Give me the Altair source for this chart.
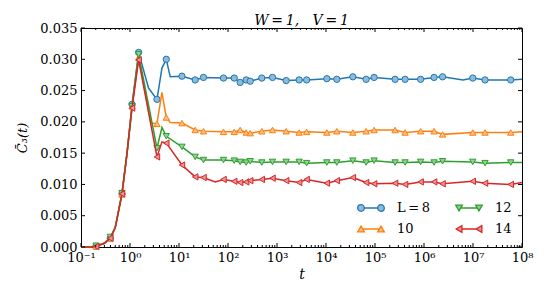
import altair as alt
import pandas as pd

# ---------------- data ----------------
names = ["L\u2009=\u20098", "10", "12", "14"]

t_mark = [0.203, 0.396, 0.686, 1.10, 1.50, 3.55, 5.50, 11.5, 21.4, 31.6, 80.9,
          134, 177, 235, 284, 490, 809, 1538, 2831, 4027, 10400, 16630, 35300,
          65900, 95900, 257000, 411000, 853000, 1.607e6, 2.39e6, 9.89e6,
          1.76e7, 5.89e7]

v_L8 = [0.0001, 0.0014, 0.0085, 0.0228, 0.0311, 0.0236, 0.0300, 0.0273, 0.0267,
        0.0271, 0.0270, 0.0270, 0.0263, 0.0267, 0.0265, 0.0270, 0.0271, 0.0266,
        0.0267, 0.0267, 0.0269, 0.0268, 0.0272, 0.0268, 0.0271, 0.0268, 0.0268,
        0.0268, 0.0271, 0.0272, 0.0270, 0.0267, 0.0267]
v_L10 = [0.0001, 0.0014, 0.0084, 0.0225, 0.0303, 0.0197, 0.0207, 0.0198, 0.0187,
         0.0185, 0.0184, 0.0184, 0.0187, 0.0183, 0.0182, 0.0185, 0.0187, 0.0185,
         0.0183, 0.0184, 0.0183, 0.0185, 0.0183, 0.0185, 0.0187, 0.0187, 0.0183,
         0.0185, 0.0185, 0.0180, 0.0183, 0.0183, 0.0183]
v_L12 = [0.0002, 0.0016, 0.0086, 0.0225, 0.0308, 0.0158, 0.0177, 0.0160, 0.0144,
         0.0139, 0.0139, 0.0138, 0.0136, 0.0135, 0.0137, 0.0135, 0.0136, 0.0136,
         0.0136, 0.0134, 0.0135, 0.0135, 0.0138, 0.0135, 0.0138, 0.0135, 0.0135,
         0.0136, 0.0135, 0.0137, 0.0136, 0.0134, 0.0135]
v_L14 = [0.0001, 0.0014, 0.0085, 0.0222, 0.0299, 0.0144, 0.0166, 0.0131, 0.0112,
         0.0111, 0.0108, 0.0105, 0.0103, 0.0104, 0.0106, 0.0108, 0.0110, 0.0106,
         0.0103, 0.0108, 0.0102, 0.0106, 0.0111, 0.0103, 0.0101, 0.0102, 0.0100,
         0.0104, 0.0104, 0.0101, 0.0105, 0.0102, 0.0100]

# line-only points (the curves are denser than the markers)
early_t = [0.1, 0.15, 0.3, 0.5, 0.87]
early_v = [0.0, 0.0, 0.0006, 0.0031, 0.0150]
ext_t_L8 = [2.39, 4.49, 6.62, 6.27e6, 1e8]
ext_v_L8 = [0.0254, 0.0286, 0.0272, 0.0267, 0.0268]
ext_t_L10 = [2.68, 4.49, 6.62, 1e8]
ext_v_L10 = [0.0198, 0.0247, 0.0199, 0.0184]
ext_t_L12 = [4.49, 1e8]
ext_v_L12 = [0.0191, 0.0135]
ext_t_L14 = [4.49, 54.8, 1e8]
ext_v_L14 = [0.0168, 0.0104, 0.0103]

x_major = [1e-1, 1e0, 1e1, 1e2, 1e3, 1e4, 1e5, 1e6, 1e7, 1e8]
x_labels = ["10⁻¹", "10⁰", "10¹", "10²", "10³", "10⁴", "10⁵", "10⁶", "10⁷", "10⁸"]
x_minor = [m * 10.0 ** k for k in range(-1, 8) for m in range(2, 10)]
y_major = [0.0, 0.005, 0.010, 0.015, 0.020, 0.025, 0.030, 0.035]

# ---------------- styling ----------------
dark = dict(zip(names, ["#1f77b4", "#ff7f0e", "#2ca02c", "#d62728"]))
light = dict(zip(names, ["#8fbbd9", "#ffbf86", "#95cf95", "#eb9393"]))
shapes = dict(zip(names, ["circle", "triangle-up", "triangle-down", "triangle-left"]))


def circ(cx, r=0.25):
    return (f"M{cx - r},0A{r},{r},0,1,0,{cx + r},0A{r},{r},0,1,0,{cx - r},0Z")


def tri_up(cx, r=0.25):
    h = 0.866 * r
    return f"M{cx},{-h}L{cx + r},{h}L{cx - r},{h}Z"


def tri_down(cx, r=0.25):
    h = 0.866 * r
    return f"M{cx},{h}L{cx + r},{-h}L{cx - r},{-h}Z"


def tri_left(cx, r=0.25):
    h = 0.866 * r
    return f"M{cx - h},0L{cx + h},{-r}L{cx + h},{r}Z"


legend_paths = dict(zip(names, [
    "M-0.5,0L0.5,0" + circ(-0.75) + circ(0.75),
    "M-0.625,0L0.625,0" + tri_up(-0.75) + tri_up(0.75),
    "M-0.625,0L0.625,0" + tri_down(-0.75) + tri_down(0.75),
    "M-0.53,0L0.53,0" + tri_left(-0.75) + tri_left(0.75),
]))

rows = []
for name, vals, et, ev in [(names[0], v_L8, ext_t_L8, ext_v_L8),
                           (names[1], v_L10, ext_t_L10, ext_v_L10),
                           (names[2], v_L12, ext_t_L12, ext_v_L12),
                           (names[3], v_L14, ext_t_L14, ext_v_L14)]:
    for t, v in zip(early_t, early_v):
        rows.append({"series": name, "t": t, "v": v, "mark": False})
    for t, v in zip(t_mark, vals):
        rows.append({"series": name, "t": t, "v": v, "mark": True})
    for t, v in zip(et, ev):
        rows.append({"series": name, "t": t, "v": v, "mark": False})
df = pd.DataFrame(rows)

FONT = "DejaVu Serif"
W, H = 441, 219

xscale = alt.Scale(type="log", domain=[0.1, 1e8], nice=False)
yscale = alt.Scale(domain=[0, 0.035], nice=False, zero=False)
# line colours: domain listed in another order so this (legend-less) scale
# is never merged with the legend scales below
line_order = names[::-1]
color_scale = alt.Scale(domain=line_order, range=[dark[n] for n in line_order])
fill_scale = alt.Scale(domain=names, range=[light[n] for n in names])
stroke_scale = alt.Scale(domain=names, range=[dark[n] for n in names])
shape_scale = alt.Scale(domain=names, range=[legend_paths[n] for n in names])

label_expr = ""
for v, s in zip(x_major, x_labels):
    label_expr += f"abs(datum.value - {v}) < {v} * 0.01 ? '{s}' : "
label_expr += "''"

xaxis = alt.Axis(values=x_major, labelExpr=label_expr,
                 ticks=False, domain=False, grid=False, labelFont=FONT,
                 labelFontSize=13, labelColor="black", labelPadding=4, labelFlush=False,
                 labelOverlap=False, title="t", titleFont=FONT, titleFontSize=14,
                 titleFontStyle="italic", titleFontWeight="normal", titleColor="black",
                 titlePadding=3)
yaxis = alt.Axis(values=y_major, format=".3f", ticks=False, domain=False,
                 grid=False, labelFont=FONT, labelFontSize=13, labelColor="black",
                 labelPadding=4, title="C̄₃(t)", titleFont=FONT, titleFontSize=13,
                 titleFontStyle="italic", titleFontWeight="normal", titleColor="black",
                 titlePadding=10)

leg = alt.Legend(title=None, orient="none", legendX=276, legendY=166, columns=2,
                 columnPadding=23, rowPadding=0, symbolSize=708, symbolStrokeWidth=1.3,
                 labelFont=FONT, labelFontSize=13, labelColor="black", labelOffset=12,
                 padding=0)

X = alt.X("t:Q", scale=xscale, axis=xaxis)
Y = alt.Y("v:Q", scale=yscale, axis=yaxis)

base = alt.Chart(df)
layers = []
for n in names:
    ln = base.transform_filter(f"datum.series === '{n}'").mark_line(strokeWidth=1.5).encode(
        x=X, y=Y,
        color=alt.Color("series:N", scale=color_scale, legend=None),
        order="t:Q",
    )
    pt = base.transform_filter(f"datum.series === '{n}' && datum.mark").mark_point(
        shape=shapes[n], filled=True, size=40, opacity=1, strokeWidth=1
    ).encode(
        x=X, y=Y,
        fill=alt.Fill("series:N", scale=fill_scale, legend=leg),
        stroke=alt.Stroke("series:N", scale=stroke_scale, legend=leg),
    )
    layers += [ln, pt]

legend_layer = base.transform_filter("false").mark_point(
    filled=True, opacity=1, strokeWidth=1.3
).encode(
    x=X, y=Y,
    shape=alt.Shape("series:N", scale=shape_scale, legend=leg),
    fill=alt.Fill("series:N", scale=fill_scale, legend=leg),
    stroke=alt.Stroke("series:N", scale=stroke_scale, legend=leg),
)
layers.append(legend_layer)

xmaj_df = pd.DataFrame({"t": x_major})
xmin_df = pd.DataFrame({"t": x_minor})
ymaj_df = pd.DataFrame({"v": y_major})


def xticks(d, length):
    top = alt.Chart(d).mark_rule(color="black", strokeWidth=1).encode(
        x=X, y=alt.value(0), y2=alt.value(length))
    bot = alt.Chart(d).mark_rule(color="black", strokeWidth=1).encode(
        x=X, y=alt.value(H), y2=alt.value(H - length))
    return [top, bot]


def yticks(d, length):
    left = alt.Chart(d).mark_rule(color="black", strokeWidth=1).encode(
        y=Y, x=alt.value(0), x2=alt.value(length))
    right = alt.Chart(d).mark_rule(color="black", strokeWidth=1).encode(
        y=Y, x=alt.value(W), x2=alt.value(W - length))
    return [left, right]


layers += xticks(xmaj_df, 4) + xticks(xmin_df, 2) + yticks(ymaj_df, 4)

chart = alt.layer(*layers).properties(
    width=W, height=H,
    title=alt.TitleParams("W\u2009=\u20091,\u00a0\u00a0\u00a0V\u2009=\u20091", font=FONT,
                          fontSize=14, fontStyle="italic", fontWeight="normal",
                          color="black", anchor="middle", offset=-6),
    autosize=alt.AutoSizeParams(type="none"),
    padding={"left": 73, "top": 20, "right": 20, "bottom": 45},
    background="white",
).configure_view(stroke="black", strokeWidth=1)

chart.save("out.html", embed_options={"renderer": "svg", "actions": False})
